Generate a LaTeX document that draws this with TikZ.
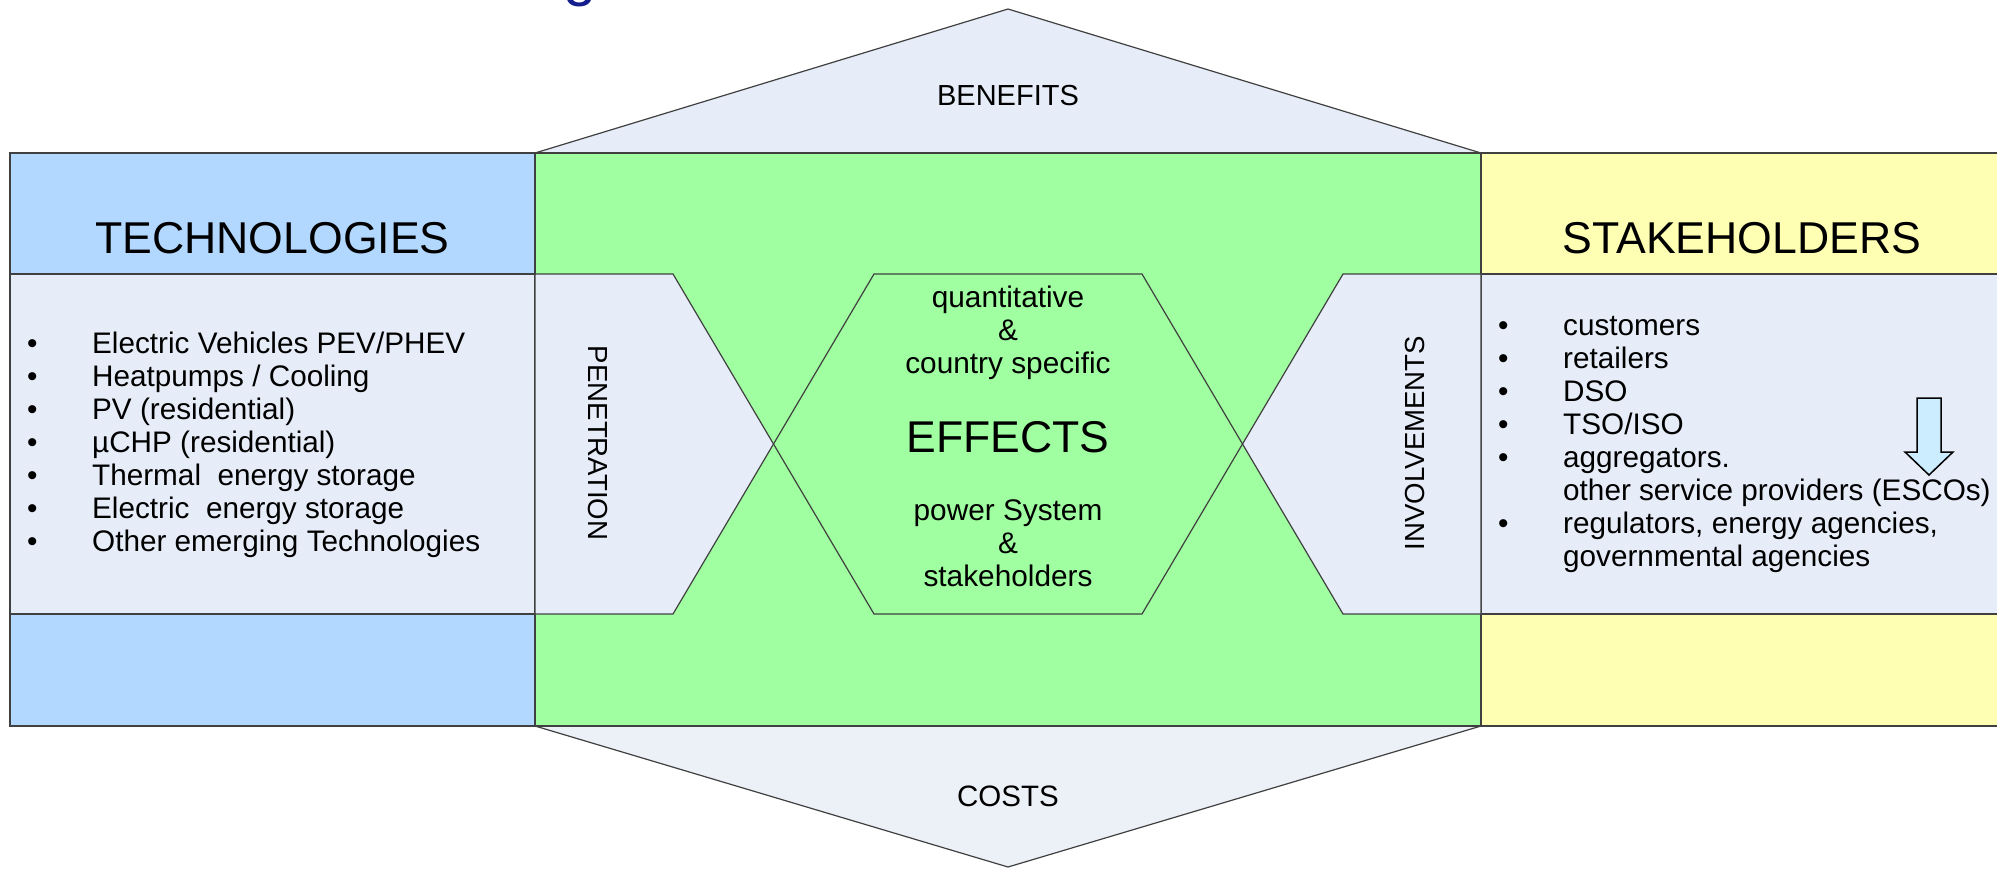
\documentclass[tikz,border=0pt]{standalone}
\usepackage{fontspec}
\setmainfont{Liberation Sans}
\definecolor{edge}{RGB}{64,64,64}
\definecolor{techblue}{RGB}{179,216,255}
\definecolor{effgreen}{RGB}{160,255,160}
\definecolor{stakeyellow}{RGB}{255,255,180}
\definecolor{paleblue}{RGB}{230,237,248}
\definecolor{costfill}{RGB}{236,241,248}
\definecolor{arrowfill}{RGB}{204,236,255}
\definecolor{titleblue}{RGB}{20,30,140}
\newcommand{\headfont}{\fontsize{44.6}{50}\selectfont}
\newcommand{\listfont}{\fontsize{29.7}{33}\selectfont}
\newcommand{\midfont}{\fontsize{29.8}{33}\selectfont}
\newcommand{\sidefont}{\fontsize{27.6}{32}\selectfont}
\newcommand{\bul}{\makebox[65pt][l]{\textbullet}}
\newcommand{\nobul}{\makebox[65pt][l]{}}
\begin{document}
\begin{tikzpicture}[x=1pt,y=-1pt,line join=miter,
  frame/.style={draw=edge,line width=1.2pt},
  label/.style={inner sep=0pt,text=black},
  heading/.style={label,font=\headfont,anchor=base},
  sidelabel/.style={label,font=\sidefont}]
\clip (0,0) rectangle (1997,868);
\fill[white] (0,0) rectangle (1997,868);

% top and bottom wedges
\filldraw[frame,fill=paleblue] (535,153) -- (1008,9) -- (1481,153) -- cycle;
\filldraw[frame,fill=costfill] (535,726) -- (1008,867) -- (1481,726) -- cycle;

% three columns
\filldraw[frame,fill=techblue] (10,153) rectangle (535,726);
\filldraw[frame,fill=paleblue] (10,274) rectangle (535,614);
\filldraw[frame,fill=effgreen] (535,153) rectangle (1481,726);
\filldraw[frame,fill=stakeyellow] (1481,153) rectangle (2006,726);
\filldraw[frame,fill=paleblue] (1481,274) rectangle (2006,614);

% penetration and involvement wedges, effects hexagon
\filldraw[frame,fill=paleblue] (535,274) -- (673,274) -- (773.5,444) -- (673,614) -- (535,614) -- cycle;
\filldraw[frame,fill=paleblue] (1481,274) -- (1343,274) -- (1242.5,444) -- (1343,614) -- (1481,614) -- cycle;
\filldraw[frame,fill=effgreen] (874,274) -- (1142,274) -- (1242.5,444) -- (1142,614) -- (874,614) -- (773.5,444) -- cycle;

% title fragment at the top edge
\node[label,anchor=base,text=titleblue,font=\fontsize{60}{70}\selectfont] (titlefrag) at (580,-6) {g};

% headings
\node[heading] (tech) at (272.5,253) {TECHNOLOGIES};
\node[heading] (stake) at (1742,253) {STAKEHOLDERS};
\node[label,anchor=base,font=\fontsize{29}{32}\selectfont] (benefits) at (1008,105) {BENEFITS};
\node[label,anchor=base,font=\fontsize{29.5}{32}\selectfont] (costs) at (1008,806) {COSTS};
\node[sidelabel,rotate=-90] (pen) at (598,443) {PENETRATION};
\node[sidelabel,rotate=90] (inv) at (1415,443) {INVOLVEMENTS};

% effects block
\node[label,anchor=base,font=\midfont] (quant) at (1008,307)
  {\begin{tabular}[t]{@{}c@{}}quantitative\\\&\\country specific\end{tabular}};
\node[label,anchor=base,font=\fontsize{44.5}{50}\selectfont] (effects) at (1008,452) {EFFECTS};
\node[label,anchor=base,font=\midfont] (power) at (1008,520)
  {\begin{tabular}[t]{@{}c@{}}power System\\\&\\stakeholders\end{tabular}};

% lists
\node[label,anchor=base west,font=\listfont] (techlist) at (27,353)
  {\begin{tabular}[t]{@{}l@{}}
   \bul Electric Vehicles PEV/PHEV\\
   \bul Heatpumps / Cooling\\
   \bul PV (residential)\\
   \bul µCHP (residential)\\
   \bul Thermal\ \ energy storage\\
   \bul Electric\ \ energy storage\\
   \bul Other emerging Technologies
   \end{tabular}};
\node[label,anchor=base west,font=\listfont] (stakelist) at (1498,335)
  {\begin{tabular}[t]{@{}l@{}}
   \bul customers\\
   \bul retailers\\
   \bul DSO\\
   \bul TSO/ISO\\
   \bul aggregators.\\
   \nobul other service providers (ESCOs)\\
   \bul regulators, energy agencies,\\
   \nobul governmental agencies
   \end{tabular}};

% down arrow beside the list
\filldraw[draw=black,line width=1.5pt,fill=arrowfill]
  (1917,398) -- (1941,398) -- (1941,452) -- (1953,452) -- (1929,475) -- (1905,452) -- (1917,452) -- cycle;
\end{tikzpicture}
\end{document}
